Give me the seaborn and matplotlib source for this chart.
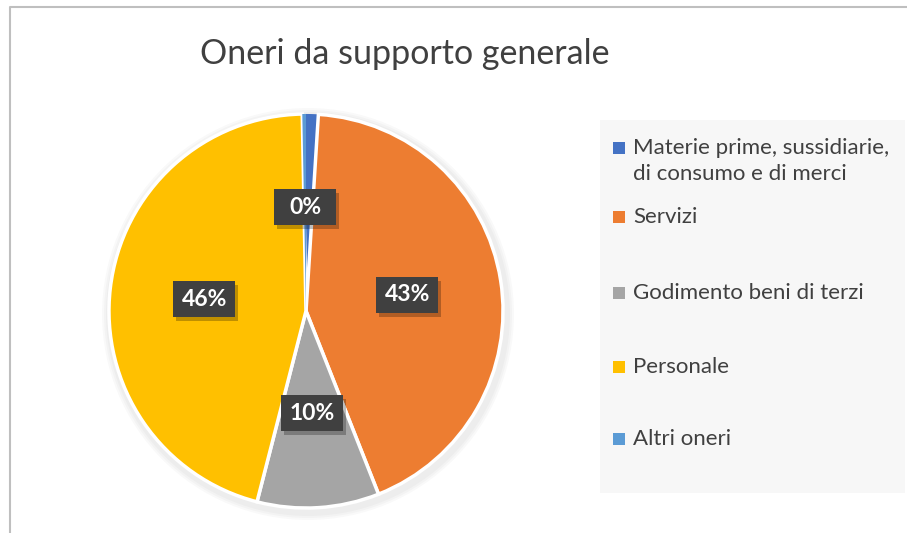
import matplotlib
matplotlib.use("Agg")
import matplotlib.pyplot as plt
import seaborn as sns
import numpy as np
from matplotlib.patches import Rectangle

categories = ["Materie prime, sussidiarie,\ndi consumo e di merci", "Servizi",
              "Godimento beni di terzi", "Personale", "Altri oneri"]
values = [1.0, 43.0, 10.0, 45.7, 0.3]
pct_labels = ["", "43%", "10%", "46%", "0%"]
title = "Oneri da supporto generale"
colors = ["#4472C4", "#ED7D31", "#A5A5A5", "#FFC000", "#5B9BD5"]

sns.set_theme(style="white")
plt.rcParams["font.family"] = ["Lato", "DejaVu Sans"]
palette = sns.color_palette(colors)

W, H = 907, 533
fig = plt.figure(figsize=(W / 100, H / 100), dpi=100)
ax = fig.add_axes([0, 0, 1, 1])

def Y(py):
    return H - py

cx, cy, r = 306, Y(311), 197

# soft shadow
for k in range(3):
    ax.add_patch(plt.Circle((cx + 2, cy - 3), r + 9 - 2 * k, color="black", alpha=0.025, lw=0))

wedges, _ = ax.pie(values, colors=palette, startangle=90, counterclock=False,
                   center=(cx, cy), radius=r, explode=[0.03] * len(values),
                   wedgeprops=dict(linewidth=2.5, edgecolor="white"), frame=True)
for wdg, v in zip(wedges, values):
    if v < 2:
        wdg.set_linewidth(0)
ax.set_xlim(0, W)
ax.set_ylim(0, H)
ax.set_aspect("equal")
ax.axis("off")

# chart border
ax.plot([10, 10, W], [0, Y(7), Y(7)], color="#bfbfbf", lw=1.5, solid_capstyle="butt")

# title
ax.text(405, Y(54), title, ha="center", va="center", fontsize=24.5, color="#404040")

total = sum(values)
ang = 90.0
label_pos = {}
for i, v in enumerate(values):
    span = v / total * 360
    mid = np.deg2rad(ang - span / 2)
    ang -= span
    label_pos[i] = (cx + 0.52 * r * np.cos(mid), cy + 0.52 * r * np.sin(mid))

for i, lab in enumerate(pct_labels):
    if not lab:
        continue
    x, y = label_pos[i]
    if i == 4:
        x, y = 305, Y(207)
    w, h = 62, 36
    ax.add_patch(Rectangle((x - w / 2 + 3, y - h / 2 - 4), w, h, color="black", alpha=0.25, lw=0))
    ax.add_patch(Rectangle((x - w / 2, y - h / 2), w, h, color="#404040", lw=0))
    ax.text(x, y, lab, ha="center", va="center", fontsize=16.5, fontweight="bold", color="white")

# legend box
ax.add_patch(Rectangle((600, Y(493)), 305, 373, color="#f7f7f7", lw=0))
leg_y = [148, 217, 293, 367, 439]
for i, (cat, yy) in enumerate(zip(categories, leg_y)):
    ax.add_patch(Rectangle((613, Y(yy) - 6), 12, 12, color=palette[i], lw=0))
    for j, line in enumerate(cat.split("\n")):
        ax.text(633, Y(yy + 26 * j), line, ha="left", va="center",
                fontsize=16, color="#404040")

fig.savefig("out.png", dpi=100, facecolor="white")
